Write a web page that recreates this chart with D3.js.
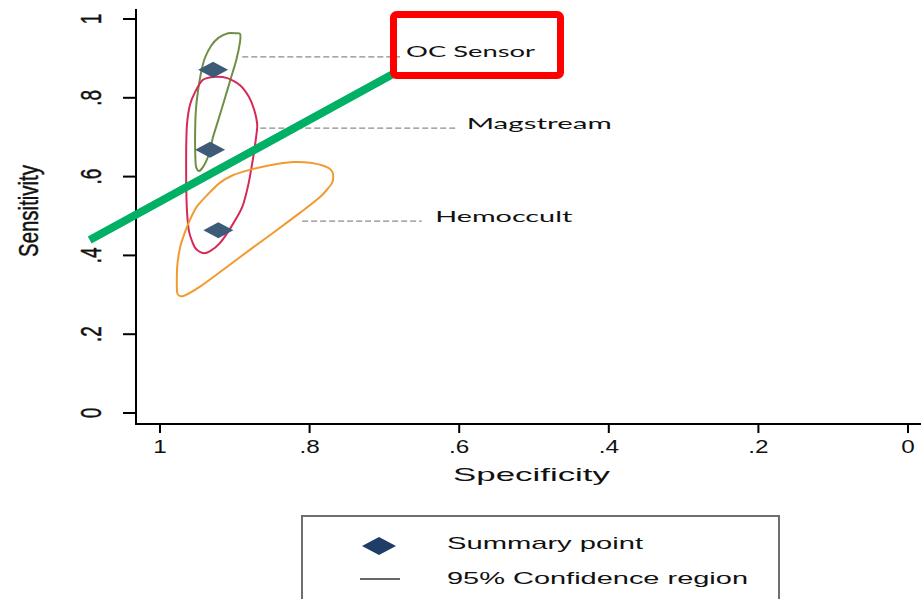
<!DOCTYPE html>
<html>
<head>
<meta charset="utf-8">
<script src="https://cdn.jsdelivr.net/npm/d3@7"></script>
<style>
  body { margin: 0; background: #fff; }
  svg { display: block; }
</style>
</head>
<body>
<div id="chart"></div>
<script>
// axis ticks
const specTicks = [1, 0.8, 0.6, 0.4, 0.2, 0];
const sensTicks = [0, 0.2, 0.4, 0.6, 0.8, 1];
const tickFmt = d => d === 0 || d === 1 ? String(d) : String(d).replace(/^0/, '');

// summary points (specificity, sensitivity)
const tests = ['OC Sensor', 'Magstream', 'Hemoccult'];
const summarySpec = [0.929, 0.933, 0.922];
const summarySens = [0.871, 0.668, 0.464];

// 95% confidence regions, outlines [spec, sens]
const regionOC = [
  [0.893, 0.962], [0.893, 0.942], [0.898, 0.896], [0.906, 0.845], [0.914, 0.794],
  [0.922, 0.744], [0.929, 0.701], [0.934, 0.660], [0.941, 0.629], [0.948, 0.614],
  [0.952, 0.627], [0.953, 0.668], [0.953, 0.718], [0.952, 0.769], [0.949, 0.820],
  [0.945, 0.865], [0.940, 0.901], [0.932, 0.931], [0.922, 0.952], [0.909, 0.964],
  [0.898, 0.964]
];
const regionMag = [
  [0.929, 0.853], [0.910, 0.850], [0.893, 0.832], [0.881, 0.802], [0.874, 0.769],
  [0.870, 0.731], [0.872, 0.693], [0.876, 0.642], [0.882, 0.579], [0.890, 0.523],
  [0.904, 0.475], [0.920, 0.431], [0.933, 0.411], [0.943, 0.406], [0.953, 0.419],
  [0.961, 0.459], [0.964, 0.515], [0.965, 0.591], [0.965, 0.668], [0.964, 0.731],
  [0.960, 0.782], [0.953, 0.815], [0.943, 0.845]
];
const regionHem = [
  [0.977, 0.305], [0.977, 0.371], [0.973, 0.421], [0.967, 0.457], [0.960, 0.490],
  [0.951, 0.523], [0.937, 0.553], [0.920, 0.584], [0.902, 0.604], [0.880, 0.617],
  [0.853, 0.629], [0.822, 0.637], [0.799, 0.635], [0.777, 0.624], [0.769, 0.609],
  [0.770, 0.584], [0.786, 0.548], [0.813, 0.508], [0.844, 0.464], [0.880, 0.414],
  [0.916, 0.363], [0.947, 0.320], [0.969, 0.297]
];
const regions = [regionOC, regionMag, regionHem];
const regionColors = ['#6f8f45', '#d42a55', '#f29a30'];

// leader lines: [spec start, spec end, sens]
const leaders = [[0.890, 0.679, 0.904], [0.866, 0.603, 0.723], [0.810, 0.650, 0.487]];
const labelSpec = [0.671, 0.590, 0.632];
const labelWidth = [129, 145, 137];

// green arrow annotation [spec, sens]
const arrow = [[1.094, 0.439], [0.683, 0.866]];

const width = 921, height = 599;
const svg = d3.select('#chart').append('svg')
  .attr('width', width)
  .attr('height', height);

// 比例尺
const x = d3.scaleLinear().domain([1, 0]).range([160, 908]);
const y = d3.scaleLinear().domain([0, 1]).range([413, 19]);

// 坐标轴
svg.append('line')
  .attr('x1', 136).attr('x2', 136).attr('y1', 9).attr('y2', 425)
  .attr('stroke', '#000').attr('stroke-width', 2);
svg.append('line')
  .attr('x1', 135).attr('x2', width).attr('y1', 424).attr('y2', 424)
  .attr('stroke', '#000').attr('stroke-width', 2);

const yAxis = svg.append('g');
yAxis.selectAll('line')
  .data(sensTicks)
  .enter()
  .append('line')
  .attr('x1', 123).attr('x2', 136)
  .attr('y1', d => y(d)).attr('y2', d => y(d))
  .attr('stroke', '#000').attr('stroke-width', 2);
yAxis.selectAll('text')
  .data(sensTicks)
  .enter()
  .append('text')
  .attr('transform', d => `translate(101,${y(d)}) scale(1.6,1) rotate(-90)`)
  .attr('text-anchor', 'middle')
  .attr('font-family', 'Liberation Sans, Arial, sans-serif')
  .attr('font-size', 19)
  .attr('fill', '#111')
  .attr('stroke', '#111')
  .attr('stroke-width', 0.3)
  .text(tickFmt);

const xAxis = svg.append('g');
xAxis.selectAll('line')
  .data(specTicks)
  .enter()
  .append('line')
  .attr('x1', d => x(d)).attr('x2', d => x(d))
  .attr('y1', 424).attr('y2', 433)
  .attr('stroke', '#000').attr('stroke-width', 2);
xAxis.selectAll('text')
  .data(specTicks)
  .enter()
  .append('text')
  .attr('transform', d => `translate(${x(d)},453) scale(1.35,1)`)
  .attr('text-anchor', 'middle')
  .attr('font-family', 'Liberation Sans, Arial, sans-serif')
  .attr('font-size', 18)
  .attr('fill', '#111')
  .text(tickFmt);

// 轴标题
svg.append('text')
  .attr('x', 453).attr('y', 481)
  .attr('textLength', 157)
  .attr('lengthAdjust', 'spacingAndGlyphs')
  .attr('font-family', 'Liberation Sans, Arial, sans-serif')
  .attr('font-size', 19)
  .attr('fill', '#111')
  .text('Specificity');
svg.append('text')
  .attr('transform', 'translate(38,211) scale(1.5,1) rotate(-90)')
  .attr('text-anchor', 'middle')
  .attr('textLength', 92)
  .attr('lengthAdjust', 'spacingAndGlyphs')
  .attr('font-family', 'Liberation Sans, Arial, sans-serif')
  .attr('font-size', 18)
  .attr('fill', '#111')
  .attr('stroke', '#111')
  .attr('stroke-width', 0.3)
  .text('Sensitivity');

// 置信区域
const line = d3.line()
  .x(d => x(d[0]))
  .y(d => y(d[1]))
  .curve(d3.curveCardinalClosed.tension(0.3));

svg.append('g')
  .selectAll('path')
  .data(regions)
  .enter()
  .append('path')
  .attr('d', line)
  .attr('fill', 'none')
  .attr('stroke', (d, i) => regionColors[i])
  .attr('stroke-width', 2);

// 汇总点
const diamond = (cx, cy, w, h) => `M${cx - w / 2},${cy}L${cx},${cy - h / 2}L${cx + w / 2},${cy}L${cx},${cy + h / 2}Z`;
svg.append('g')
  .selectAll('path')
  .data(tests)
  .enter()
  .append('path')
  .attr('d', (d, i) => diamond(x(summarySpec[i]), y(summarySens[i]), 30, 16))
  .attr('fill', '#3d5b77');

// 引线和标签
svg.append('g')
  .selectAll('line')
  .data(leaders)
  .enter()
  .append('line')
  .attr('x1', d => x(d[0])).attr('x2', d => x(d[1]))
  .attr('y1', d => y(d[2])).attr('y2', d => y(d[2]))
  .attr('stroke', '#8c8c8c')
  .attr('stroke-width', 1.3)
  .attr('stroke-dasharray', '6,3');

svg.append('g')
  .selectAll('text')
  .data(tests)
  .enter()
  .append('text')
  .attr('x', (d, i) => x(labelSpec[i]))
  .attr('y', (d, i) => y(leaders[i][2]) + (i === 0 ? 0 : 1))
  .attr('textLength', (d, i) => labelWidth[i])
  .attr('lengthAdjust', 'spacingAndGlyphs')
  .attr('font-family', 'Lato, Open Sans, sans-serif')
  .attr('font-size', 16)
  .attr('fill', '#111')
  .text(d => d);

// 绿色箭头线
svg.append('line')
  .attr('x1', x(arrow[0][0])).attr('y1', y(arrow[0][1]))
  .attr('x2', x(arrow[1][0])).attr('y2', y(arrow[1][1]))
  .attr('stroke', '#00b064')
  .attr('stroke-width', 8);

// 红色框
svg.append('rect')
  .attr('x', 393.5).attr('y', 14.5)
  .attr('width', 167).attr('height', 61)
  .attr('rx', 3)
  .attr('fill', 'none')
  .attr('stroke', '#ff0000')
  .attr('stroke-width', 7);

// 图例
const legend = svg.append('g');
legend.append('rect')
  .attr('x', 302).attr('y', 516)
  .attr('width', 477).attr('height', 120)
  .attr('fill', '#fff')
  .attr('stroke', '#6e6e6e')
  .attr('stroke-width', 2);
legend.append('path')
  .attr('d', diamond(379, 546, 34, 18))
  .attr('fill', '#1f3d66');
legend.append('line')
  .attr('x1', 360).attr('x2', 400).attr('y1', 579).attr('y2', 579)
  .attr('stroke', '#333').attr('stroke-width', 1.5);
legend.selectAll('text')
  .data(['Summary point', '95% Confidence region'])
  .enter()
  .append('text')
  .attr('x', 447)
  .attr('y', (d, i) => 549 + i * 35)
  .attr('textLength', (d, i) => i === 0 ? 196 : 301)
  .attr('lengthAdjust', 'spacingAndGlyphs')
  .attr('font-family', 'Liberation Sans, Arial, sans-serif')
  .attr('font-size', 17)
  .attr('fill', '#111')
  .text(d => d);
</script>
</body>
</html>
